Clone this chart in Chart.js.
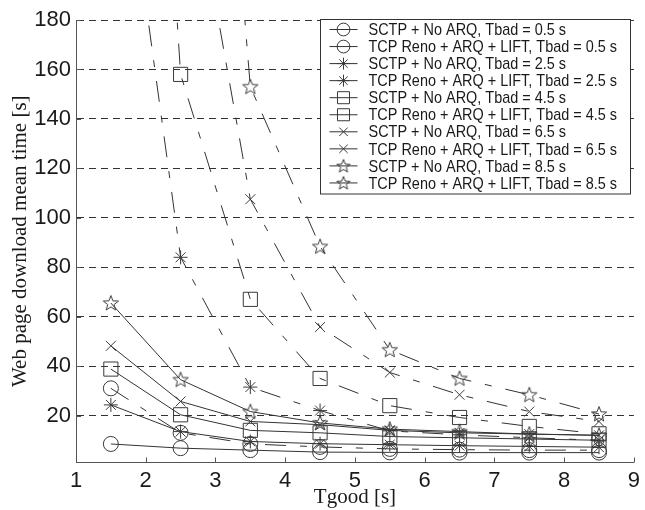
<!DOCTYPE html>
<html>
<head>
<meta charset="utf-8">
<script src="https://cdn.jsdelivr.net/npm/chart.js"></script>
<style>
  html, body { margin: 0; padding: 0; background: #fff; }
  #wrap { width: 645px; height: 510px; }
</style>
</head>
<body>
<div id="wrap"><canvas id="chart" width="645" height="510"></canvas></div>
<script>
// ===== DATA =====
const tgood = [1.5, 2.5, 3.5, 4.5, 5.5, 6.5, 7.5, 8.5];
const xTicks = [1, 2, 3, 4, 5, 6, 7, 8, 9];
const yTicks = [20, 40, 60, 80, 100, 120, 140, 160, 180];

// values above 180 run off the top of the plot
const sctp05 = [31, 13, 8.5, 7.3, 6.5, 6.2, 6, 6];
const tcp05  = [8.5, 6.8, 6, 5.2, 5.1, 5, 5, 5];
const sctp25 = [290, 84, 31.5, 22, 13.8, 12.2, 11, 10];
const tcp25  = [24.3, 13.5, 9.5, 8.6, 8.2, 7.8, 7.5, 7.2];
const sctp45 = [600, 158, 67, 35, 24, 19.2, 15.6, 12.6];
const tcp45  = [38.8, 20.3, 14, 13, 11.5, 11, 10.5, 10];
const sctp65 = [650, 266, 107.5, 55.8, 37.4, 28.4, 21.6, 17.6];
const tcp65  = [48.2, 25.7, 17.6, 16.3, 14, 13, 12.5, 12];
const sctp85 = [1000, 495, 153, 88.4, 46.6, 35, 28.4, 20.6];
const tcp85  = [65.5, 34.5, 21.6, 17, 14.5, 13.5, 12.5, 12];

const seriesLabels = [
  "SCTP + No ARQ, Tbad = 0.5 s",
  "TCP Reno + ARQ + LIFT, Tbad = 0.5 s",
  "SCTP + No ARQ, Tbad = 2.5 s",
  "TCP Reno + ARQ + LIFT, Tbad = 2.5 s",
  "SCTP + No ARQ, Tbad = 4.5 s",
  "TCP Reno + ARQ + LIFT, Tbad = 4.5 s",
  "SCTP + No ARQ, Tbad = 6.5 s",
  "TCP Reno + ARQ + LIFT, Tbad = 6.5 s",
  "SCTP + No ARQ, Tbad = 8.5 s",
  "TCP Reno + ARQ + LIFT, Tbad = 8.5 s"
];

const LINE = "#333";
const MARK = "#3a3a3a";

// pentagram marker (matlab 'p')
function pentagram(r) {
  const c = document.createElement("canvas");
  const s = Math.ceil(2 * r + 4);
  c.width = s; c.height = s;
  const g = c.getContext("2d");
  g.strokeStyle = MARK;
  g.lineWidth = 1;
  g.beginPath();
  for (let i = 0; i < 10; i++) {
    const a = -Math.PI / 2 + i * Math.PI / 5;
    const rr = i % 2 ? r * 0.42 : r;
    const px = s / 2 + rr * Math.cos(a), py = s / 2 + 0.5 + rr * Math.sin(a);
    if (i === 0) g.moveTo(px, py); else g.lineTo(px, py);
  }
  g.closePath();
  g.stroke();
  return c;
}
const starImg = pentagram(8);
const starSmall = pentagram(7);

function mk(label, values, style, radius, dashed) {
  return {
    label: label,
    data: values.map((v, i) => ({ x: tgood[i], y: v })),
    borderColor: LINE,
    borderWidth: 1,
    borderDash: dashed ? [21, 14, 7, 14] : [],
    pointStyle: style,
    pointRadius: radius,
    pointBorderColor: MARK,
    pointBorderWidth: 1,
    pointBackgroundColor: "rgba(0,0,0,0)",
    fill: false,
    tension: 0
  };
}

const datasets = [
  mk(seriesLabels[0], sctp05, "circle", 7.5, true),
  mk(seriesLabels[1], tcp05, "circle", 7.5, false),
  mk(seriesLabels[2], sctp25, "star", 7, true),
  mk(seriesLabels[3], tcp25, "star", 7, false),
  mk(seriesLabels[4], sctp45, "rect", 10, true),
  mk(seriesLabels[5], tcp45, "rect", 10, false),
  mk(seriesLabels[6], sctp65, "crossRot", 7, true),
  mk(seriesLabels[7], tcp65, "crossRot", 7, false),
  mk(seriesLabels[8], sctp85, starImg, 7, true),
  mk(seriesLabels[9], tcp85, starImg, 7, false)
];

// ===== PLUGINS =====
// matlab style ticks pointing into the plot
const inwardTicks = {
  id: "inwardTicks",
  afterDatasetsDraw(chart) {
    const { ctx, chartArea: a, scales: { x, y } } = chart;
    ctx.save();
    ctx.strokeStyle = "#555";
    ctx.lineWidth = 1;
    ctx.setLineDash([]);
    ctx.beginPath();
    xTicks.forEach(v => {
      const px = Math.round(x.getPixelForValue(v)) + 0.5;
      ctx.moveTo(px, a.bottom);
      ctx.lineTo(px, a.bottom - 5);
    });
    yTicks.forEach(v => {
      const py = Math.round(y.getPixelForValue(v)) + 0.5;
      ctx.moveTo(a.left, py);
      ctx.lineTo(a.left + 5, py);
    });
    ctx.stroke();
    ctx.restore();
  }
};

// legend box inside the plot, top right
const boxLegend = {
  id: "boxLegend",
  afterDraw(chart) {
    const { ctx, chartArea: a } = chart;
    const bw = 310, rowH = 17.05, bh = rowH * chart.data.datasets.length + 4;
    const bx = Math.round(a.right - 4 - bw) + 0.5, by = Math.round(a.top - 1) + 0.5;
    ctx.save();
    ctx.fillStyle = "#fff";
    ctx.fillRect(bx, by, bw, bh);
    ctx.strokeStyle = "#333";
    ctx.lineWidth = 1;
    ctx.setLineDash([]);
    ctx.strokeRect(bx, by, bw, bh);
    chart.data.datasets.forEach((ds, i) => {
      const cy = by + 10 + i * rowH;
      ctx.strokeStyle = LINE;
      ctx.beginPath();
      ctx.moveTo(bx + 9, cy);
      ctx.lineTo(bx + 37, cy);
      ctx.stroke();
      if (Chart.helpers && Chart.helpers.drawPoint) {
        ctx.strokeStyle = MARK;
        ctx.fillStyle = "rgba(0,0,0,0)";
        const st = ds.pointStyle === starImg ? starSmall : ds.pointStyle;
        Chart.helpers.drawPoint(ctx, { pointStyle: st, radius: ds.pointRadius * 0.85, rotation: 0, borderWidth: 1 }, bx + 23, cy);
      }
      // helvetica in the original is narrower than liberation sans
      ctx.save();
      ctx.translate(bx + 48, cy + 1);
      ctx.scale(0.85, 1);
      ctx.font = "17px 'Liberation Sans', Arial, sans-serif";
      ctx.textBaseline = "middle";
      ctx.fillStyle = "#1a1a1a";
      ctx.fillText(ds.label, 0, 0);
      ctx.restore();
    });
    ctx.restore();
  }
};

// ===== CHART =====
new Chart(document.getElementById("chart"), {
  type: "line",
  data: { datasets: datasets },
  plugins: [inwardTicks, boxLegend],
  options: {
    responsive: false,
    animation: false,
    layout: { padding: { left: 0, right: 8, top: 20, bottom: 0 } },
    plugins: { legend: { display: false }, tooltip: { enabled: false } },
    scales: {
      x: {
        type: "linear",
        min: 1,
        max: 9,
        afterBuildTicks: s => { s.ticks = xTicks.map(v => ({ value: v })); },
        afterFit: s => { s.height = 47.5; },
        grid: { display: false, drawTicks: false },
        border: { display: true, color: "#555", width: 1 },
        ticks: { color: "#1a1a1a", padding: 5, font: { family: "'Liberation Sans', Arial, sans-serif", size: 22 } },
        title: { display: true, text: "Tgood [s]", color: "#1a1a1a", padding: { top: 0, bottom: 0 },
                 font: { family: "'Liberation Serif', 'Times New Roman', serif", size: 21 } }
      },
      y: {
        type: "linear",
        min: 1,
        max: 180,
        afterBuildTicks: s => { s.ticks = yTicks.map(v => ({ value: v })); },
        afterFit: s => { s.width = 76; },
        grid: { color: "#333", lineWidth: 1, drawTicks: false },
        border: { display: true, color: "#555", width: 1, dash: [7, 5] },
        ticks: { color: "#1a1a1a", padding: 5, font: { family: "'Liberation Sans', Arial, sans-serif", size: 22 } },
        title: { display: true, text: "Web page download mean time [s]", color: "#1a1a1a", padding: { top: 8, bottom: 0 },
                 font: { family: "'Liberation Serif', 'Times New Roman', serif", size: 21 } }
      }
    }
  }
});
</script>
</body>
</html>
